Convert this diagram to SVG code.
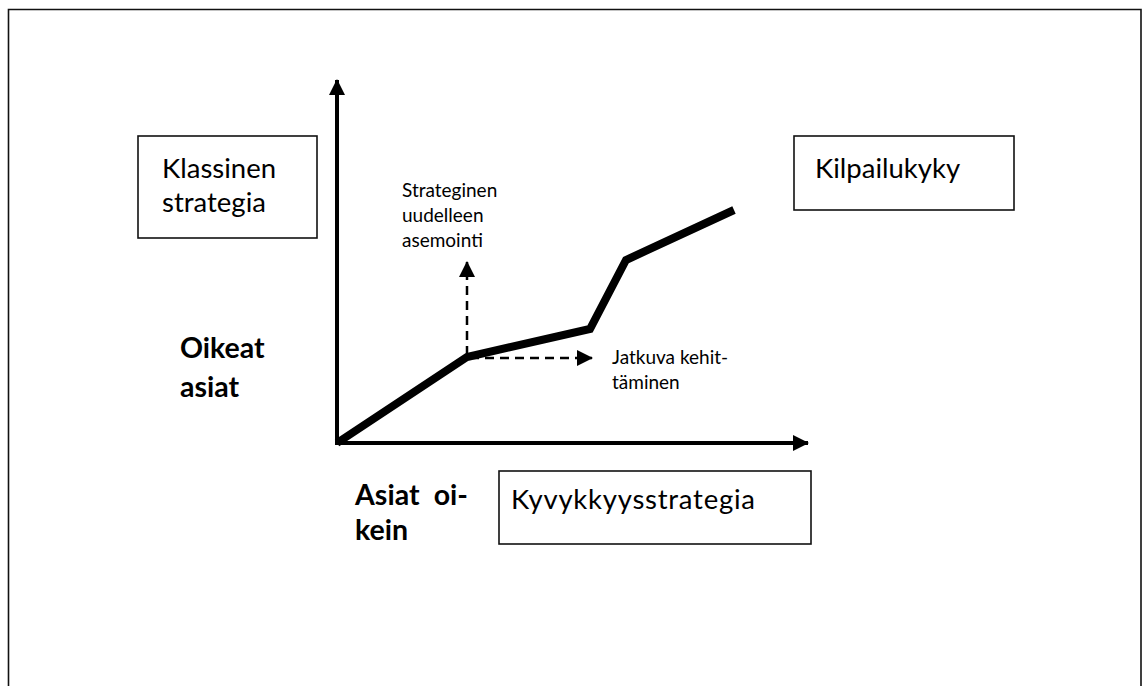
<svg xmlns="http://www.w3.org/2000/svg" width="1143" height="686" viewBox="0 0 1143 686">
  <style>
    .frame { fill: none; stroke: #111; stroke-width: 1.6; }
    .box { fill: #fff; stroke: #111; stroke-width: 1.6; }
    .axis { fill: none; stroke: #000; stroke-width: 4; }
    .curve { fill: none; stroke: #000; stroke-width: 8; stroke-linejoin: miter; stroke-linecap: butt; }
    .dash { fill: none; stroke: #000; stroke-width: 2.5; stroke-dasharray: 9 6; }
    .lbl { font-family: Lato, "Liberation Sans", sans-serif; fill: #000; }
    .big { font-size: 27.5px; }
    .small { font-size: 19px; }
    .bold { font-size: 28.5px; font-weight: bold; }
  </style>
  <defs>
    <marker id="axh" markerWidth="16" markerHeight="16" refX="15" refY="8" orient="auto" markerUnits="userSpaceOnUse" viewBox="0 0 16 16">
      <path d="M0,0 L16,8 L0,16 Z" fill="#000"/>
    </marker>
    <marker id="dh" markerWidth="16" markerHeight="16" refX="15" refY="8" orient="auto" markerUnits="userSpaceOnUse" viewBox="0 0 16 16">
      <path d="M0,0 L16,8 L0,16 Z" fill="#000"/>
    </marker>
  </defs>

  <!-- page frame, open at the bottom -->
  <path class="frame" d="M8.5,690 V9.5 H1141 V690"/>

  <g id="connectors">
    <!-- axes -->
    <line class="axis" x1="337" y1="445" x2="337" y2="80" marker-end="url(#axh)"/>
    <line class="axis" x1="335" y1="443" x2="808" y2="443" marker-end="url(#axh)"/>
    <!-- development path -->
    <polyline class="curve" points="337,443 467,357 590,329 626,260 734,210"/>
    <!-- dashed alternatives -->
    <line class="dash" x1="467" y1="355" x2="467" y2="262" marker-end="url(#dh)"/>
    <line class="dash" x1="470" y1="358" x2="592" y2="358" marker-end="url(#dh)"/>
  </g>

  <g id="klassinen">
    <rect class="box" x="138" y="136" width="179" height="102"/>
    <text class="lbl big" x="162" y="178">Klassinen</text>
    <text class="lbl big" x="162" y="212">strategia</text>
  </g>

  <g id="kilpailukyky">
    <rect class="box" x="794" y="136" width="220" height="74"/>
    <text class="lbl big" x="815" y="178">Kilpailukyky</text>
  </g>

  <g id="kyvykkyysstrategia">
    <rect class="box" x="499" y="471" width="312" height="73"/>
    <text class="lbl big" x="511" y="509" textLength="244">Kyvykkyysstrategia</text>
  </g>

  <g id="strateginen">
    <text class="lbl small" x="402" y="197">Strateginen</text>
    <text class="lbl small" x="402" y="222">uudelleen</text>
    <text class="lbl small" x="402" y="247">asemointi</text>
  </g>

  <g id="jatkuva">
    <text class="lbl small" x="612" y="364">Jatkuva kehit-</text>
    <text class="lbl small" x="612" y="389">täminen</text>
  </g>

  <g id="oikeat-asiat">
    <text class="lbl bold" x="180" y="358">Oikeat</text>
    <text class="lbl bold" x="180" y="397">asiat</text>
  </g>

  <g id="asiat-oikein">
    <text class="lbl bold" x="355" y="505" textLength="113" xml:space="preserve">Asiat  oi-</text>
    <text class="lbl bold" x="355" y="540">kein</text>
  </g>
</svg>
